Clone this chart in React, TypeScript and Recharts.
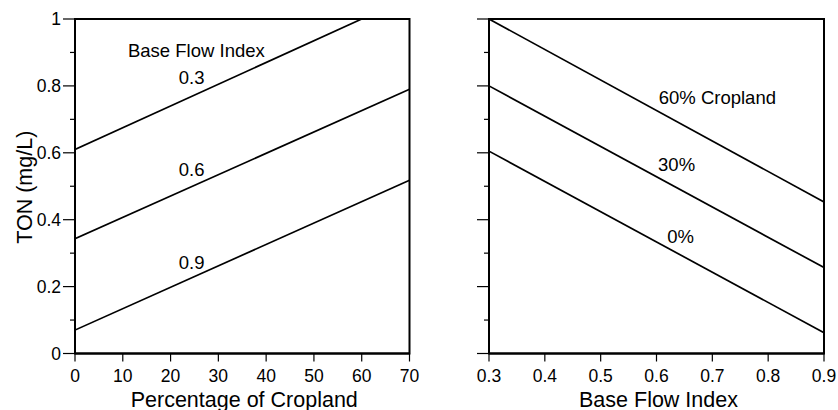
import React from "react";
import { LineChart, Line, XAxis, YAxis, ReferenceArea, ReferenceDot } from "recharts";

const font = '"Liberation Sans", Arial, Helvetica, sans-serif';

// left panel: TON against % cropland, one line per base flow index
const bfi03Crop = [0, 60];
const bfi03Ton = [0.61, 1.0];
const bfi06Crop = [0, 70];
const bfi06Ton = [0.343, 0.79];
const bfi09Crop = [0, 70];
const bfi09Ton = [0.07, 0.518];

// right panel: TON against base flow index, one line per cropland share
const bfiEnds = [0.3, 0.9];
const crop60Ton = [1.0, 0.453];
const crop30Ton = [0.8, 0.257];
const crop0Ton = [0.605, 0.062];

const tonTicks = [0, 0.1, 0.2, 0.3, 0.4, 0.5, 0.6, 0.7, 0.8, 0.9, 1];
const cropTicks = [0, 10, 20, 30, 40, 50, 60, 70];
const bfiTicks = [0.3, 0.4, 0.5, 0.6, 0.7, 0.8, 0.9];

// in-plot annotations, placed in data units
const leftNotes = [
  { text: "Base Flow Index", x: 25.4, y: 0.906 },
  { text: "0.3", x: 24.4, y: 0.825 },
  { text: "0.6", x: 24.4, y: 0.551 },
  { text: "0.9", x: 24.4, y: 0.272 },
];
const rightNotes = [
  { text: "60% Cropland", x: 0.709, y: 0.767 },
  { text: "30%", x: 0.636, y: 0.564 },
  { text: "0%", x: 0.643, y: 0.351 },
];

const zip = (xs: number[], ys: number[]) => xs.map((x, i) => ({ x, y: ys[i] }));

const fmtTon = (v: number) => (v === 0 ? "0" : v === 1 ? "1" : v.toFixed(1));

const TonTick = (props: any) => {
  const { x, y, payload, showLabel } = props;
  const major = Math.round(payload.value * 10) % 2 === 0;
  return (
    <g>
      <line x1={x - (major ? 12 : 5)} x2={x} y1={y} y2={y} stroke="#000" strokeWidth={1.2} />
      {showLabel && major && (
        <text x={x - 14} y={y} dy="0.355em" textAnchor="end" fontSize={17.5} fontFamily={font} fill="#000">
          {fmtTon(payload.value)}
        </text>
      )}
    </g>
  );
};

const xTitle = (text: string) => (p: any) => {
  const vb = p.viewBox;
  return (
    <text x={vb.x + vb.width / 2 + 2} y={406.5} textAnchor="middle" fontSize={21.5} fontFamily={font} fill="#000">
      {text}
    </text>
  );
};

const yTitle = (p: any) => {
  const vb = p.viewBox;
  const cx = 24;
  const cy = vb.y + vb.height / 2 + 1;
  return (
    <text
      x={cx}
      y={cy}
      dy="0.355em"
      transform={`rotate(-90 ${cx} ${cy})`}
      textAnchor="middle"
      fontSize={21.5}
      fontFamily={font}
      fill="#000"
    >
      TON (mg/L)
    </text>
  );
};

const lineProps = {
  type: "linear" as const,
  dataKey: "y",
  stroke: "#000",
  strokeWidth: 1.7,
  dot: false,
  isAnimationActive: false,
};

const tickStyle = { fill: "#000", fontSize: 17.5, fontFamily: font };

const noteLabel = (text: string) => ({
  value: text,
  position: "center" as const,
  fill: "#000",
  fontSize: 18.5,
  fontFamily: font,
});

export default function App() {
  return (
    <div style={{ position: "absolute", left: 0, top: 0, width: 838, height: 410, background: "#fff" }}>
      <div style={{ position: "absolute", left: 0, top: 0 }}>
        <LineChart width={420} height={410} margin={{ top: 19, right: 10.5, bottom: 16.5, left: 0 }}>
          <XAxis
            type="number"
            dataKey="x"
            domain={[0, 70]}
            ticks={cropTicks}
            allowDataOverflow
            height={40}
            axisLine={{ stroke: "#000", strokeWidth: 2 }}
            tickLine={{ stroke: "#000", strokeWidth: 1.2 }}
            tickSize={8}
            tickMargin={8}
            tick={tickStyle}
            label={{ content: xTitle("Percentage of Cropland") }}
          />
          <YAxis
            type="number"
            domain={[0, 1]}
            ticks={tonTicks}
            allowDataOverflow
            width={75}
            axisLine={{ stroke: "#000", strokeWidth: 2 }}
            tickLine={false}
            tickSize={0}
            tickMargin={0}
            tick={(p: any) => <TonTick {...p} showLabel />}
            label={{ content: yTitle }}
          />
          <ReferenceArea x1={0} x2={70} y1={0} y2={1} fill="none" stroke="#000" strokeWidth={2} />
          <Line {...lineProps} data={zip(bfi03Crop, bfi03Ton)} />
          <Line {...lineProps} data={zip(bfi06Crop, bfi06Ton)} />
          <Line {...lineProps} data={zip(bfi09Crop, bfi09Ton)} />
          {leftNotes.map((n) => (
            <ReferenceDot key={n.text} x={n.x} y={n.y} r={0} fill="none" stroke="none" label={noteLabel(n.text)} />
          ))}
        </LineChart>
      </div>
      <div style={{ position: "absolute", left: 420, top: 0 }}>
        <LineChart width={418} height={410} margin={{ top: 19, right: 14, bottom: 16.5, left: 0 }}>
          <XAxis
            type="number"
            dataKey="x"
            domain={[0.3, 0.9]}
            ticks={bfiTicks}
            allowDataOverflow
            height={40}
            axisLine={{ stroke: "#000", strokeWidth: 2 }}
            tickLine={{ stroke: "#000", strokeWidth: 1.2 }}
            tickSize={8}
            tickMargin={8}
            tick={tickStyle}
            tickFormatter={(v: number) => v.toFixed(1)}
            label={{ content: xTitle("Base Flow Index") }}
          />
          <YAxis
            type="number"
            domain={[0, 1]}
            ticks={tonTicks}
            allowDataOverflow
            width={69}
            axisLine={{ stroke: "#000", strokeWidth: 2 }}
            tickLine={false}
            tickSize={0}
            tickMargin={0}
            tick={(p: any) => <TonTick {...p} showLabel={false} />}
          />
          <ReferenceArea x1={0.3} x2={0.9} y1={0} y2={1} fill="none" stroke="#000" strokeWidth={2} />
          <Line {...lineProps} data={zip(bfiEnds, crop60Ton)} />
          <Line {...lineProps} data={zip(bfiEnds, crop30Ton)} />
          <Line {...lineProps} data={zip(bfiEnds, crop0Ton)} />
          {rightNotes.map((n) => (
            <ReferenceDot key={n.text} x={n.x} y={n.y} r={0} fill="none" stroke="none" label={noteLabel(n.text)} />
          ))}
        </LineChart>
      </div>
    </div>
  );
}
